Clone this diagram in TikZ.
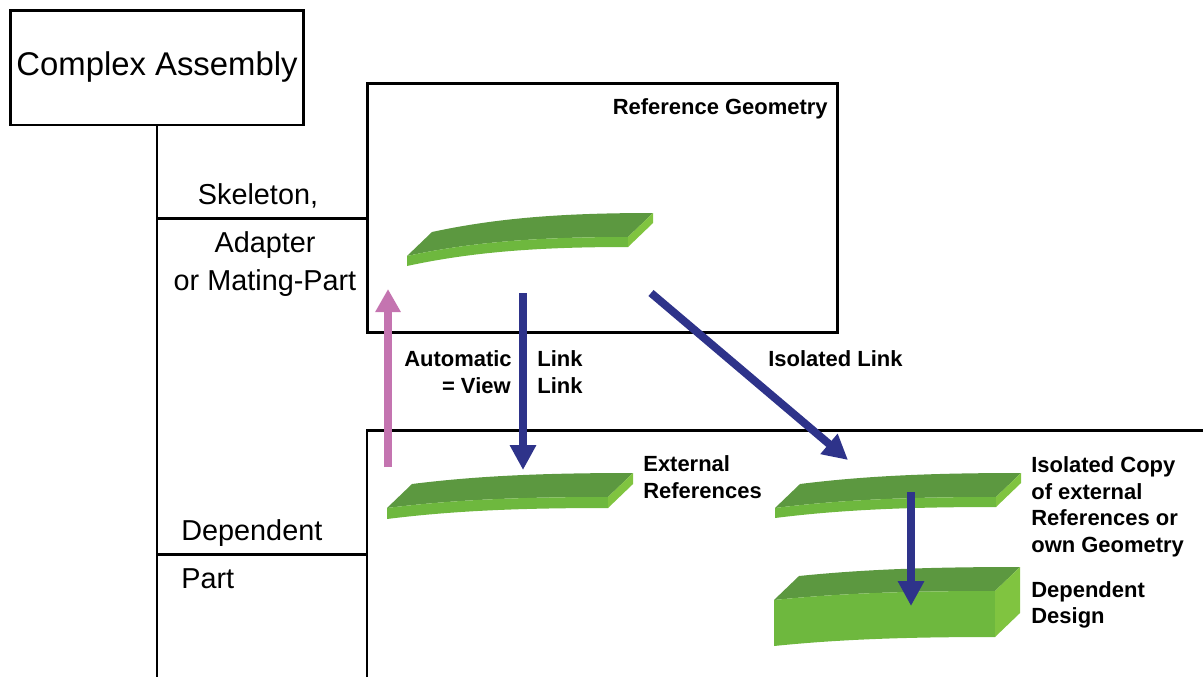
\documentclass[tikz,border=0pt]{standalone}
\usepackage{fontspec}
\setmainfont{Liberation Sans}
\usetikzlibrary{arrows.meta}
\definecolor{linkblue}{RGB}{46,51,138}
\definecolor{viewpink}{RGB}{196,116,176}
\definecolor{slabtop}{RGB}{92,152,64}
\definecolor{slabfront}{RGB}{110,184,62}
\definecolor{slabside}{RGB}{128,196,64}

% Curved green plate: #1,#2 = front-left-top corner, #3 = rise of the front edge, #4 = thickness
\newcommand{\greenslab}[4]{%
  \begin{scope}[shift={(#1,#2)}]
    \fill[slabtop] (0,0) .. controls (70,{-0.8*#3}) and (140,{-#3}) .. (221,{-#3})
      -- (246,{-#3-24}) .. controls (165,{-#3-24}) and (95,{-0.8*#3-24}) .. (25,-24) -- cycle;
    \fill[slabfront] (0,0) .. controls (70,{-0.8*#3}) and (140,{-#3}) .. (221,{-#3})
      -- (221,{-#3+#4}) .. controls (140,{-#3+#4}) and (70,{-0.8*#3+#4}) .. (0,#4) -- cycle;
    \fill[slabside] (221,{-#3}) -- (246,{-#3-24}) -- (246,{-#3-24+#4}) -- (221,{-#3+#4}) -- cycle;
  \end{scope}}

\begin{document}
\begin{tikzpicture}[x=0.02cm,y=-0.02cm,
  frame/.style={line width=1.7pt},
  boxnode/.style={draw, frame, inner sep=0pt},
  boldlbl/.style={font=\fontsize{12.5}{15}\selectfont\bfseries, inner sep=0pt},
  reglbl/.style={font=\fontsize{16.4}{20}\selectfont, inner sep=0pt},
  biglbl/.style={font=\fontsize{18.7}{22}\selectfont, inner sep=0pt},
  bluelink/.style={draw=linkblue, line width=4.5pt, -{Triangle[width=0.5cm,length=0.5cm]}},
  pinklink/.style={draw=viewpink, line width=4.5pt, -{Triangle[width=0.48cm,length=0.46cm]}},
]
\useasboundingbox (0,0) rectangle (1203,677);

% boxes
\node[boxnode, minimum width=5.88cm, minimum height=2.3cm] (asmbox) at (157,67.5) {};
\node[biglbl] (asm) at (157,67) {Complex Assembly};
\node[boxnode, minimum width=9.42cm, minimum height=5cm] (refbox) at (602.5,208) {};
\node[boldlbl, anchor=base east] (refgeo) at (828,114) {Reference Geometry};

% dependent part frame (open to the right and bottom)
\coordinate (depcorner) at (367,430);
\coordinate (depbottom) at (367,677);
\coordinate (depright) at (1203,430);
\draw[frame] (depbottom) -- (depcorner) -- (depright);

% tree
\coordinate (trunkbot) at (157,677);
\coordinate (j1) at (157,218);
\coordinate (j2) at (157,554);
\draw[frame] (asmbox.south) -- (trunkbot);
\draw[frame] (j1) -- (j1 -| refbox.west);
\draw[frame] (j2) -- (j2 -| depcorner);

% tree labels
\node[reglbl, anchor=base] (skel) at (258,204) {Skeleton,};
\node[reglbl, anchor=base] (adapt) at (265,252) {Adapter};
\node[reglbl, anchor=base] (mating) at (265,290) {or Mating-Part};
\node[reglbl, anchor=base west] (dep) at (181,540) {Dependent};
\node[reglbl, anchor=base west] (part) at (181,588) {Part};

% plates
\greenslab{407}{256}{19}{10}
\greenslab{387}{508}{11}{11}
\greenslab{775}{508}{11}{10}
\greenslab{774}{600}{9}{46}

% link arrows
\coordinate (pinkfrom) at (388,467);
\coordinate (pinkto) at (388,289);
\coordinate (linkfrom) at (523,293);
\coordinate (linkto) at (523,470);
\coordinate (isofrom) at (651,293);
\coordinate (isoto) at (848,460);
\coordinate (desfrom) at (911,492);
\coordinate (desto) at (911,606);
\draw[pinklink] (pinkfrom) -- (pinkto);
\draw[bluelink] (linkfrom) -- (linkto);
\draw[bluelink] (isofrom) -- (isoto);
\draw[bluelink] (desfrom) -- (desto);

% link labels
\node[boldlbl, anchor=base east] (auto1) at (512,366) {Automatic};
\node[boldlbl, anchor=base east] (auto2) at (511,393) {= View};
\node[boldlbl, anchor=base west] (link1) at (537,366) {Link};
\node[boldlbl, anchor=base west] (link2) at (537,393) {Link};
\node[boldlbl, anchor=base west] (isolink) at (768,366) {Isolated Link};

% plate labels
\node[boldlbl, anchor=base west] (ext1) at (643,471) {External};
\node[boldlbl, anchor=base west] (ext2) at (643,498) {References};
\node[boldlbl, anchor=base west] (iso1) at (1031,472) {Isolated Copy};
\node[boldlbl, anchor=base west] (iso2) at (1031,499) {of external};
\node[boldlbl, anchor=base west] (iso3) at (1031,525) {References or};
\node[boldlbl, anchor=base west] (iso4) at (1031,552) {own Geometry};
\node[boldlbl, anchor=base west] (des1) at (1031,597) {Dependent};
\node[boldlbl, anchor=base west] (des2) at (1031,623) {Design};
\end{tikzpicture}
\end{document}
